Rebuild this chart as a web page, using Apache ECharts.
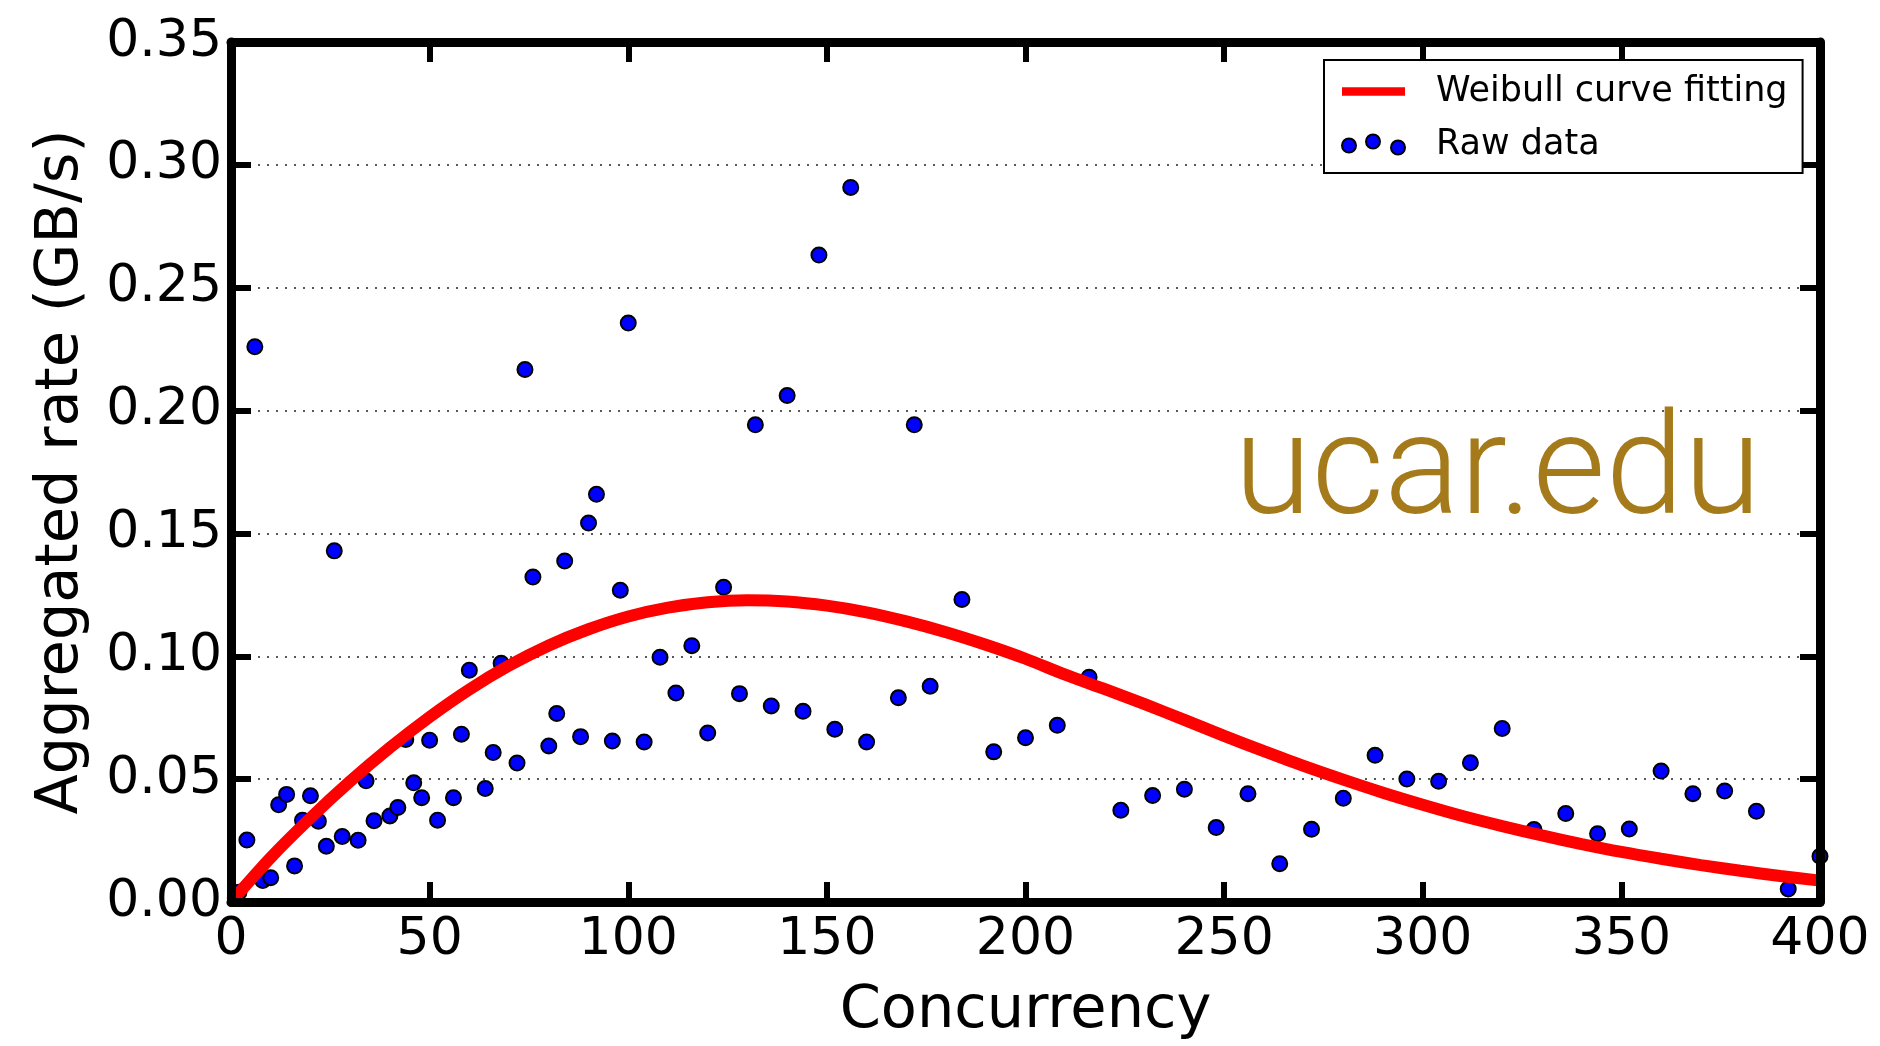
<!DOCTYPE html>
<html>
<head>
<meta charset="utf-8">
<title>Aggregated rate vs concurrency</title>
<script src="https://cdn.jsdelivr.net/npm/echarts@6/dist/echarts.min.js"></script>
<style>
  html, body { margin: 0; padding: 0; background: #fff; }
  #chart { width: 1880px; height: 1046px; }
</style>
</head>
<body>
<div id="chart"></div>
<script>
// Measured transfer rate per concurrency level
const concurrency = [2, 4, 6, 8, 10, 12, 14, 16, 18, 20, 22, 24, 26, 28, 32, 34, 36, 40, 42, 44,
  46, 48, 50, 52, 56, 58, 60, 64, 66, 68, 72, 74, 76, 80, 82, 84, 88, 90, 92, 96,
  98, 100, 104, 108, 112, 116, 120, 124, 128, 132, 136, 140, 144, 148, 152, 156, 160, 168, 172, 176,
  184, 192, 200, 208, 216, 224, 232, 240, 248, 256, 264, 272, 280, 288, 296, 304, 312, 320, 328, 336,
  344, 352, 360, 368, 376, 384, 392, 400];
const rawRate = [0.004, 0.0252, 0.226, 0.0088, 0.0099, 0.0396, 0.0438, 0.0147, 0.0333, 0.0432, 0.0329, 0.0227, 0.1429, 0.0267, 0.0251, 0.0493, 0.0331, 0.035, 0.0385, 0.0661,
  0.0485, 0.0424, 0.0658, 0.0333, 0.0424, 0.0683, 0.0943, 0.0462, 0.0608, 0.0972, 0.0566, 0.2167, 0.1323, 0.0635, 0.0767, 0.1388, 0.0673, 0.1542, 0.1659, 0.0655,
  0.1269, 0.2356, 0.0651, 0.0996, 0.0851, 0.1043, 0.0688, 0.1281, 0.0848, 0.1942, 0.0798, 0.2061, 0.0776, 0.2633, 0.0703, 0.2908, 0.0651, 0.0831, 0.1942, 0.0878,
  0.1231, 0.0611, 0.0668, 0.0719, 0.0915, 0.0373, 0.0433, 0.0459, 0.0303, 0.0441, 0.0156, 0.0296, 0.0422, 0.0597, 0.0501, 0.0491, 0.0567, 0.0706, 0.0295, 0.036,
  0.0278, 0.0297, 0.0533, 0.0441, 0.0452, 0.0369, 0.0053, 0.0186];

// Fitted Weibull curve, sampled every 10
const fitX = [0, 10, 20, 30, 40, 50, 60, 70, 80, 90, 100, 110, 120, 130, 140, 150, 160, 170, 180, 190,
  200, 210, 220, 230, 240, 250, 260, 270, 280, 290, 300, 310, 320, 330, 340, 350, 360, 370, 380, 390, 400];
const fitY = [0, 0.0181, 0.0342, 0.0491, 0.0628, 0.0753, 0.0865, 0.0962, 0.1044, 0.1110, 0.1162, 0.1198, 0.1220, 0.1228, 0.1223, 0.1206, 0.1179, 0.1142, 0.1098, 0.1047,
  0.0990, 0.0925, 0.0866, 0.0805, 0.0741, 0.0676, 0.0614, 0.0554, 0.0498, 0.0445, 0.0396, 0.0350, 0.0309, 0.0271, 0.0236, 0.0204, 0.0176, 0.0150, 0.0127, 0.0106, 0.0087];

// Axis ranges and labels
const xMin = 0, xMax = 400, xStep = 50;
const yMin = 0, yMax = 0.35, yStep = 0.05;
const xTitle = 'Concurrency';
const yTitle = 'Aggregated rate (GB/s)';
const fitName = 'Weibull curve fitting';
const rawName = 'Raw data';
const watermark = 'ucar.edu';

const FONT = 'DejaVu Sans';
const frameLine = { onZero: false, lineStyle: { color: '#000', width: 9 } };
const frameTick = { inside: true, length: 20, lineStyle: { color: '#000', width: 6 } };

const chart = echarts.init(document.getElementById('chart'), null, { renderer: 'canvas' });

const option = {
  backgroundColor: '#fff',
  animation: false,
  grid: { left: 231, right: 60, top: 42, bottom: 144, containLabel: false },
  xAxis: [
    {
      type: 'value', min: xMin, max: xMax, interval: xStep, position: 'bottom', z: 5,
      axisLine: frameLine, axisTick: frameTick,
      axisLabel: { color: '#000', fontFamily: FONT, fontSize: 52, margin: 12 },
      splitLine: { show: false },
      name: xTitle, nameLocation: 'middle', nameGap: 80,
      nameTextStyle: { color: '#000', fontFamily: FONT, fontSize: 59 }
    },
    {
      type: 'value', min: xMin, max: xMax, interval: xStep, position: 'top', z: 5,
      axisLine: frameLine, axisTick: frameTick,
      axisLabel: { show: false }, splitLine: { show: false }
    }
  ],
  yAxis: [
    {
      type: 'value', min: yMin, max: yMax, interval: yStep, position: 'left', z: 5,
      axisLine: frameLine, axisTick: frameTick,
      axisLabel: { color: '#000', fontFamily: FONT, fontSize: 52, margin: 9,
        formatter: v => v.toFixed(2) },
      splitLine: { show: false },
      name: yTitle, nameLocation: 'middle', nameGap: 140,
      nameTextStyle: { color: '#000', fontFamily: FONT, fontSize: 59 }
    },
    {
      type: 'value', min: yMin, max: yMax, interval: yStep, position: 'right', z: 5,
      axisLine: frameLine, axisTick: frameTick,
      axisLabel: { show: false }, splitLine: { show: false }
    },
    {
      // dotted horizontal grid beneath the data
      type: 'value', min: yMin, max: yMax, interval: yStep, position: 'left', z: 0,
      axisLine: { show: false }, axisTick: { show: false }, axisLabel: { show: false },
      splitLine: { show: true, lineStyle: { color: '#222', width: 1.5, type: [2, 7] } }
    }
  ],
  legend: {
    orient: 'vertical',
    left: 1324, top: 60,
    backgroundColor: '#fff',
    borderColor: '#000', borderWidth: 2, borderRadius: 0,
    padding: [14, 15, 11, 17],
    itemWidth: 63, itemHeight: 20, itemGap: 18,
    symbolKeepAspect: true,
    textStyle: { color: '#000', fontFamily: FONT, fontSize: 35, padding: [0, 0, 0, 26] },
    data: [
      { name: fitName, icon: 'path://M0,0H60V8H0Z',
        itemStyle: { color: '#ff0000', borderWidth: 0 } },
      { name: rawName,
        icon: 'path://M0,11a7,7 0 1,0 14,0a7,7 0 1,0 -14,0 M24,7a7,7 0 1,0 14,0a7,7 0 1,0 -14,0 M49,13a7,7 0 1,0 14,0a7,7 0 1,0 -14,0' }
    ],
    z: 10
  },
  graphic: [
    {
      type: 'text', left: 1234, top: 407, z: 1,
      style: { text: watermark, fill: '#a57a1a', fontFamily: 'Roboto', fontWeight: 300, fontSize: 141 }
    }
  ],
  series: [
    {
      name: rawName, type: 'scatter', z: 2,
      data: concurrency.map((c, i) => [c, rawRate[i]]),
      symbol: 'circle', symbolSize: 15,
      itemStyle: { color: '#0000ff', borderColor: '#000', borderWidth: 2, opacity: 1 }
    },
    {
      name: fitName, type: 'line', z: 3,
      data: fitX.map((x, i) => [x, fitY[i]]),
      smooth: 0.3, symbol: 'none',
      lineStyle: { color: '#ff0000', width: 12 },
      itemStyle: { color: '#ff0000' }
    }
  ]
};

chart.setOption(option);
</script>
</body>
</html>
